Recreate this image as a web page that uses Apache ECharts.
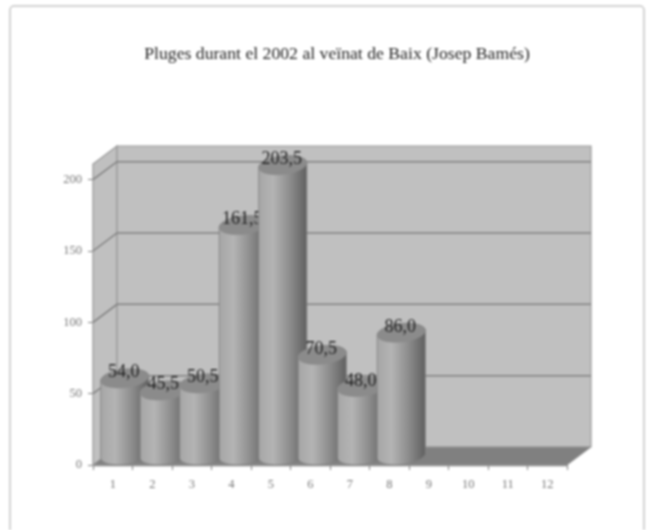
<!DOCTYPE html>
<html><head><meta charset="utf-8">
<style>html,body{margin:0;padding:0;background:#fff}#c{width:648px;height:530px;filter:blur(0.8px)}</style>
<script src="https://cdn.jsdelivr.net/npm/echarts@6/dist/echarts.min.js"></script>
</head><body><div id="c"></div>
<script>
const titleText = "Pluges durant el 2002 al veïnat de Baix (Josep Bamés)";
const categories = ["1","2","3","4","5","6","7","8","9","10","11","12"];
const rainfall = [54.0,45.5,50.5,161.5,203.5,70.5,48.0,86.0];
const yTicks = [0,50,100,150,200];
const yMax = 211;
const DEPTH = [24,-18];
const SERIF = '"Liberation Serif","Times New Roman",serif';

const chart = echarts.init(document.getElementById('c'),null,{renderer:'canvas'});

function wallItem(params, api){
  const o = api.coord([categories[0],0]);
  const step = api.size([1,0])[0];
  const xL = o[0]-step/2, xR = xL+step*categories.length, y0 = o[1];
  const yT = api.coord([categories[0],yMax])[1];
  const dx = DEPTH[0], dy = DEPTH[1];
  const edge = {stroke:'#999999',lineWidth:1.2};
  const ch = [
    {type:'polygon',shape:{points:[[xL,y0],[xL+dx,y0+dy],[xL+dx,yT+dy],[xL,yT]]},style:{fill:'#c0c0c0',...edge}},
    {type:'polygon',shape:{points:[[xL+dx,y0+dy],[xR+dx,y0+dy],[xR+dx,yT+dy],[xL+dx,yT+dy]]},style:{fill:'#c0c0c0',...edge}},
    {type:'polygon',shape:{points:[[xL,y0],[xR,y0],[xR+dx,y0+dy],[xL+dx,y0+dy]]},style:{fill:'#808080',stroke:'#999999',lineWidth:1}}
  ];
  yTicks.slice(1).forEach(t=>{
    const y = api.coord([categories[0],t])[1];
    ch.push({type:'polyline',shape:{points:[[xL,y],[xL+dx,y+dy],[xR+dx,y+dy]]},style:{fill:'none',stroke:'#808080',lineWidth:1.5}});
  });
  return {type:'group',children:ch};
}

function ellipsePts(cx,cy,a,ux,uy,t0,t1,n){
  const p=[];
  for(let i=0;i<=n;i++){
    const t=t0+(t1-t0)*i/n;
    p.push([cx+a*Math.cos(t)+ux*Math.sin(t), cy+uy*Math.sin(t)]);
  }
  return p;
}

function barItem(params, api){
  const v = api.value(1);
  const idx = api.value(0);
  const base = api.coord([idx,0]);
  const top = api.coord([idx,v]);
  const step = api.size([1,0])[0];
  const a = step*0.59, ux = 6, uy = -9.5;
  const cx = base[0]+DEPTH[0]/2;
  const tE = Math.atan2(ux,a);
  const yB = base[1]+uy, yTop = top[1]+uy;
  const body = ellipsePts(cx,yB,a,ux,uy,tE+Math.PI,tE+2*Math.PI,28)
    .concat(ellipsePts(cx,yTop,a,ux,uy,tE,tE+Math.PI,28));
  const grad = new echarts.graphic.LinearGradient(0,0,1,0,[
    {offset:0,color:'#a6a6a6'},{offset:0.3,color:'#b4b4b4'},{offset:0.65,color:'#8c8c8c'},{offset:1,color:'#5e5e5e'}
  ]);
  return {type:'group',children:[
    {type:'polygon',shape:{points:body},style:{fill:grad,stroke:'#808080',lineWidth:0.8}},
    {type:'polygon',shape:{points:ellipsePts(cx,yTop,a,ux,uy,0,2*Math.PI,56)},style:{fill:'#8b8b8b',stroke:'#8b8b8b',lineWidth:0.6}},
    {type:'text',style:{text:v.toFixed(1).replace('.',','),x:cx-1,y:yTop+uy+3.5,align:'center',verticalAlign:'middle',
      font:'18px '+SERIF,fill:'#222'}}
  ]};
}

chart.setOption({
  animation:false,
  backgroundColor:'#fff',
  title:{text:titleText,left:332,top:40,textAlign:'center',textStyle:{fontFamily:SERIF,fontSize:17.7,fontWeight:'normal',color:'#222'}},
  graphic:[{type:'rect',z:-10,shape:{x:10,y:6,width:634,height:560,r:4},style:{fill:'#fff',stroke:'#c4c4c4',lineWidth:1.5}}],
  grid:{left:93,right:81,top:164,bottom:65},
  xAxis:{type:'category',data:categories,boundaryGap:true,
    axisLine:{lineStyle:{color:'#808080',width:1.3}},
    axisTick:{show:true,length:5,alignWithLabel:false,interval:0,lineStyle:{color:'#808080'}},
    axisLabel:{interval:0,margin:13,color:'#777',fontFamily:SERIF,fontSize:12.5},splitLine:{show:false}},
  yAxis:{type:'value',min:0,max:yMax,
    axisLine:{show:true,lineStyle:{color:'#808080',width:1.3}},
    axisTick:{show:true,length:5,customValues:yTicks,lineStyle:{color:'#808080'}},
    axisLabel:{customValues:yTicks,margin:11,padding:[3,0,0,0],color:'#777',fontFamily:SERIF,fontSize:12.5},splitLine:{show:false}},
  series:[
    {type:'custom',z:1,clip:false,silent:true,renderItem:wallItem,data:[[categories[0],0]],encode:{x:0,y:1}},
    {type:'custom',z:2,clip:false,silent:true,renderItem:barItem,data:rainfall.map((v,i)=>[categories[i],v]),encode:{x:0,y:1}}
  ]
});
</script></body></html>
